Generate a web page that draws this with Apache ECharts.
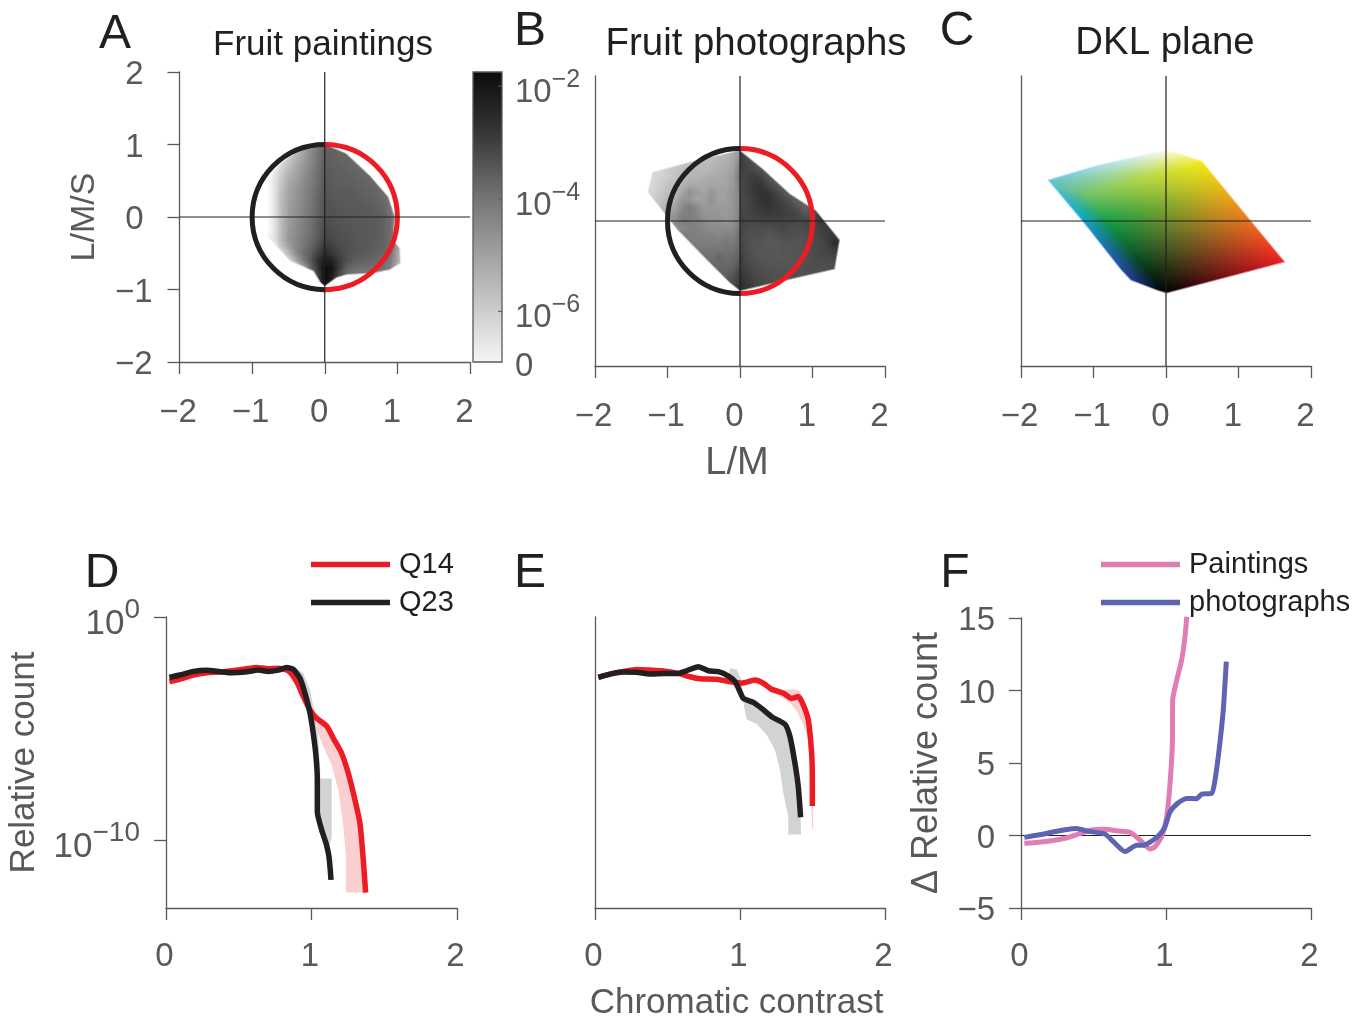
<!DOCTYPE html>
<html><head><meta charset="utf-8">
<style>html,body{margin:0;padding:0;background:#fff}#c{width:1364px;height:1017px}</style>
<script src="https://cdn.jsdelivr.net/npm/echarts@6/dist/echarts.min.js"></script>
</head><body><div id="c"></div>
<script>
const INK='#231F20', AX='#58595B', RED='#ED1C24', PINKB='#F9CFD0', GRAYB='#D1D3D4', PINK='#E07DB4', BLUE='#5E64B1';
const FONT='"Liberation Sans", Arial, sans-serif';

/* ---------- line data: [chromatic contrast, log10 relative count] ---------- */
const dQ14=[[.023,-2.90],[.096,-2.79],[.188,-2.60],[.28,-2.50],[.371,-2.47],[.451,-2.41],[.543,-2.33],[.623,-2.26],[.703,-2.32],[.772,-2.30],[.841,-2.41],[.898,-2.90],[.944,-3.57],[.990,-4.17],[1.035,-4.54],[1.104,-4.89],[1.150,-5.44],[1.207,-6.11],[1.253,-7.01],[1.299,-8.21],[1.333,-9.25],[1.356,-10.90],[1.372,-12.36]];
const dQ23=[[.023,-2.71],[.096,-2.60],[.188,-2.44],[.28,-2.39],[.371,-2.45],[.451,-2.50],[.543,-2.47],[.635,-2.38],[.703,-2.44],[.772,-2.38],[.829,-2.27],[.875,-2.35],[.921,-2.75],[.955,-3.42],[.990,-4.32],[1.012,-5.22],[1.031,-6.26],[1.040,-7.31],[1.040,-8.73],[1.070,-9.55],[1.100,-10.15],[1.120,-10.75],[1.134,-11.79]];
const dPinkBand=[[1.035,-4.40],[1.104,-4.70],[1.150,-5.44],[1.207,-6.11],[1.253,-7.01],[1.299,-8.21],[1.333,-9.25],[1.356,-10.90],[1.372,-12.36],[1.237,-12.36],[1.237,-10.75],[1.219,-9.40],[1.184,-7.76],[1.139,-6.64],[1.081,-5.81],[1.035,-5.07]];
const dGrayBand=[[.898,-2.30],[.944,-2.53],[.990,-3.27],[1.024,-4.39],[1.047,-5.52],[1.058,-6.64],[1.061,-7.24],[1.139,-7.24],[1.139,-9.85],[1.122,-10.30],[1.100,-10.15],[1.070,-9.55],[1.040,-8.73],[1.040,-7.31],[1.031,-6.26],[1.012,-5.22],[.990,-4.32],[.955,-3.42],[.921,-2.75],[.875,-2.35]];

const eQ14=[[.023,-2.71],[.103,-2.56],[.195,-2.44],[.287,-2.35],[.379,-2.38],[.460,-2.41],[.575,-2.53],[.655,-2.68],[.724,-2.77],[.839,-2.79],[.931,-2.90],[1.011,-2.97],[1.103,-2.83],[1.161,-2.97],[1.218,-3.24],[1.299,-3.42],[1.356,-3.65],[1.402,-3.57],[1.437,-3.95],[1.471,-4.62],[1.494,-6.11],[1.499,-7.31],[1.499,-8.48]];
const eQ23=[[.023,-2.71],[.103,-2.56],[.195,-2.47],[.287,-2.48],[.379,-2.56],[.471,-2.53],[.575,-2.53],[.632,-2.41],[.713,-2.23],[.782,-2.41],[.851,-2.45],[.920,-2.65],[.966,-2.90],[1.0,-3.35],[1.023,-3.65],[1.092,-3.83],[1.149,-4.10],[1.218,-4.47],[1.310,-4.81],[1.345,-5.37],[1.379,-6.56],[1.402,-7.61],[1.418,-8.98]];
const ePinkBand=[[1.103,-2.71],[1.161,-2.86],[1.218,-3.09],[1.299,-3.27],[1.368,-3.24],[1.409,-3.30],[1.448,-3.80],[1.483,-4.62],[1.501,-6.11],[1.506,-7.31],[1.504,-9.48],[1.497,-9.48],[1.487,-7.31],[1.471,-5.52],[1.437,-4.84],[1.395,-4.25],[1.345,-3.84],[1.276,-3.57],[1.207,-3.30],[1.138,-3.05],[1.069,-2.97]];
const eGrayBand=[[.931,-2.30],[.977,-2.35],[1.005,-2.75],[1.018,-3.42],[1.028,-4.02],[1.046,-4.59],[1.115,-4.80],[1.184,-5.29],[1.241,-5.96],[1.276,-6.86],[1.299,-7.91],[1.333,-8.95],[1.333,-9.75],[1.421,-9.75],[1.418,-8.98],[1.402,-7.61],[1.379,-6.56],[1.345,-5.37],[1.310,-4.81],[1.218,-4.47],[1.149,-4.10],[1.092,-3.83],[1.023,-3.65],[1.0,-3.35],[.966,-2.90],[.920,-2.65]];

const fPaintings=[[.023,-.54],[.119,-.47],[.212,-.36],[.303,-.19],[.395,.10],[.487,.38],[.579,.43],[.671,.31],[.752,.22],[.821,-.31],[.890,-.93],[.924,-.77],[.970,-.08],[1.005,1.30],[1.028,3.60],[1.044,6.36],[1.046,9.34],[1.074,10.72],[1.108,12.10],[1.131,13.71],[1.143,15.09]];
const fPhotographs=[[.023,-.13],[.119,.03],[.212,.22],[.303,.40],[.384,.49],[.453,.31],[.579,.10],[.637,-.43],[.717,-1.11],[.798,-.68],[.844,-.68],[.913,-.31],[.959,.10],[.993,.61],[1.028,1.64],[1.085,2.26],[1.143,2.56],[1.212,2.54],[1.246,2.86],[1.315,2.91],[1.338,3.83],[1.366,5.90],[1.395,8.66],[1.407,10.50],[1.416,11.99]];

/* ---------- density panels: grey level on a 0.1-unit lattice, outline in L/M, L/M/S ---------- */
const aOutline=[[0,1.01],[.30,.88],[.62,.58],[.88,.28],[.97,0],[.945,-.32],[1.04,-.43],[1.05,-.64],[.9,-.73],[.67,-.78],[.30,-.80],[.165,-.84],[0,-.96],[-.06,-.91],[-.16,-.75],[-.48,-.61],[-.80,-.27],[-.82,-.13],[-.82,.51],[-.62,.74],[-.34,.94],[-.11,1.01],[0,1.01]];
const aGrey=[ /* x -0.8..1.1, y 1.0..-1.0 */
[255,255,240,220,200,175,150,125,100,100,100,105,110,115,125,135,145,155,170,210],
[255,252,232,208,185,165,140,120,95,98,100,105,110,115,120,130,140,150,165,210],
[255,245,222,198,178,160,138,118,95,97,100,102,105,110,115,122,132,145,165,210],
[255,240,215,190,170,152,135,115,92,95,97,100,102,105,110,115,125,140,165,210],
[255,235,205,180,165,148,130,112,90,93,95,97,100,102,105,110,120,140,165,210],
[255,232,198,172,158,142,128,110,88,92,95,95,97,100,102,107,115,135,165,210],
[255,230,192,166,153,138,124,108,86,90,92,92,95,97,100,102,110,130,165,210],
[255,230,190,164,150,136,122,105,84,88,90,90,92,95,97,100,107,125,165,210],
[255,230,188,162,148,134,120,102,82,86,88,90,90,92,95,97,102,120,160,210],
[255,230,187,160,146,132,118,100,82,84,86,88,90,90,92,95,100,115,155,210],
[255,230,187,159,144,130,116,98,80,82,84,86,88,90,90,92,97,110,145,210],
[255,230,187,157,142,128,114,96,78,80,84,86,88,90,90,92,97,110,145,210],
[255,230,187,154,140,126,112,94,72,78,82,84,86,88,90,92,97,110,145,210],
[245,228,185,152,136,123,108,90,68,74,80,82,86,88,90,92,97,110,145,210],
[255,238,196,160,136,120,104,80,56,64,76,80,84,88,90,94,98,110,155,225],
[255,252,225,185,142,113,94,66,42,54,70,80,86,90,94,98,102,115,165,230],
[255,255,246,218,170,126,90,50,26,36,60,80,92,98,102,106,110,125,165,235],
[255,255,255,246,212,172,104,55,12,22,60,96,108,114,114,114,114,130,185,240],
[255,255,255,255,240,202,132,70,10,28,74,110,122,124,124,124,130,145,200,245],
[255,255,255,255,255,230,160,60,8,40,95,130,142,144,144,144,144,165,210,245],
[255,255,255,255,255,255,200,60,8,60,125,160,160,160,160,160,160,180,220,245]];
const bLeftOutline=[[0,.98],[-.69,.82],[-1.21,.68],[-1.28,.40],[-.87,-.12],[-.46,-.54],[-.14,-.86],[0,-.97]];
const bLeftGrey=[ /* x -1.3..0, y 1.0..-1.0 */
[220,220,220,220,215,210,205,200,195,190,185,180,170,150],
[220,220,220,220,215,210,205,200,195,190,185,180,170,150],
[220,220,220,215,205,200,195,190,185,185,180,175,165,130],
[220,218,215,205,200,190,185,185,185,180,175,170,160,120],
[220,215,210,205,195,185,180,180,175,170,170,165,155,120],
[220,215,205,195,190,180,170,170,170,165,165,165,155,125],
[220,210,200,190,185,165,145,155,165,150,160,160,150,130],
[210,205,195,185,175,150,150,165,160,145,160,160,150,130],
[205,200,190,175,165,140,125,140,155,150,155,155,150,130],
[200,195,180,165,150,130,125,135,150,150,150,155,150,130],
[195,190,170,155,140,125,125,130,140,145,145,150,145,125],
[190,180,160,150,140,135,130,130,135,140,140,140,140,115],
[180,170,150,140,130,125,125,128,130,130,135,130,130,110],
[170,160,140,130,125,125,125,125,125,125,125,118,125,105],
[160,150,130,125,120,120,120,120,118,118,118,115,115,100],
[150,140,125,120,115,115,115,110,110,115,100,110,105,95],
[140,130,120,115,110,110,110,110,108,105,105,105,100,85],
[130,120,115,110,105,105,105,105,100,100,100,100,90,70],
[120,115,110,105,100,100,100,100,95,95,95,90,80,60],
[110,110,105,100,100,100,95,95,90,90,85,80,70,50],
[100,100,100,100,95,95,90,90,85,85,80,70,60,40]];
const bRightOutline=[[0,.98],[.32,.72],[.69,.38],[1.05,.15],[1.38,-.26],[1.31,-.67],[.87,-.77],[0,-.97]];
const bRightGrey=[ /* x 0..1.4, y 1.0..-1.0 */
[60,75,95,110,120,125,125,125,125,125,125,125,125,125,125],
[60,75,95,110,120,125,125,125,125,125,125,125,125,125,125],
[60,72,85,100,110,120,125,125,125,125,125,125,125,125,125],
[65,68,72,82,95,110,120,125,125,125,125,125,125,125,125],
[70,65,60,65,85,100,115,120,125,125,125,125,125,125,125],
[75,65,55,55,70,85,100,110,120,125,125,125,125,125,125],
[75,65,55,50,55,70,85,100,115,120,110,100,90,90,90],
[75,68,58,50,50,60,72,85,100,110,100,85,70,70,70],
[72,70,60,55,52,58,65,72,85,100,85,65,55,55,55],
[70,70,65,60,58,60,62,65,72,85,85,58,50,50,50],
[68,72,72,70,68,68,68,70,72,72,70,60,52,50,50],
[70,75,78,78,78,75,72,75,78,75,72,65,58,55,55],
[70,78,80,82,85,82,78,80,82,80,75,70,60,55,58],
[68,80,85,85,88,88,85,85,85,82,78,72,65,45,58],
[65,78,85,85,88,88,85,85,85,82,78,72,68,60,60],
[62,75,82,85,85,88,88,85,85,82,78,75,72,70,70],
[60,72,78,80,85,85,85,85,82,80,78,78,78,78,78],
[55,65,75,78,80,82,82,82,80,80,80,80,80,80,80],
[50,60,70,75,78,80,80,80,80,80,80,80,80,80,80],
[45,55,65,70,75,78,80,80,80,80,80,80,80,80,80],
[45,55,65,70,75,78,80,80,80,80,80,80,80,80,80]];
const cOutline=[[-1.64,.57],[-.97,.77],[-.05,.98],[.08,.97],[.5,.83],[.59,.72],[1.18,0],[1.65,-.57],[.01,-1.0],[-.1,-.97],[-.49,-.82],[-.63,-.67],[-1.16,0],[-1.64,.57]];
/* RGB-cube corners projected on the plane, and their printed colours */
const cubeBlack=[0,-1], cubeR=[1.65,.43], cubeG=[-1.1,1.37], cubeB=[-.55,.2];
const greenRamp=[[0,[0,0,0]],[.73,[20,160,70]],[1,[120,195,110]]];
const cyanRamp=[[0,[45,65,175]],[.66,[20,175,235]],[1,[100,195,215]]];
const redYellowRamp=[[0,[237,28,36]],[1,[242,235,20]]];
const magentaWhiteRamp=[[0,[236,0,140]],[1,[255,255,255]]];

const colourbarExp=[-2,-4,-6];
const colourbarStops=[[0,'#0c0c0c'],[.2,'#333'],[.43,'#737373'],[.8,'#c8c8c8'],[1,'#f6f6f6']];

/* ---------- helpers ---------- */
function greyCanvas(rows){
  const h=rows.length,w=rows[0].length,cv=document.createElement('canvas');cv.width=w;cv.height=h;
  const ctx=cv.getContext('2d'),im=ctx.createImageData(w,h);
  rows.forEach((r,j)=>r.forEach((v,i)=>{const k=4*(j*w+i);im.data[k]=im.data[k+1]=im.data[k+2]=v;im.data[k+3]=255;}));
  ctx.putImageData(im,0,0);return cv;
}
function solve2(u,v,p){const d=u[0]*v[1]-v[0]*u[1];return [(p[0]*v[1]-v[0]*p[1])/d,(u[0]*p[1]-p[0]*u[1])/d];}
function ramp(r,t){
  for(let i=1;i<r.length;i++) if(t<=r[i][0]){
    const f=(t-r[i-1][0])/(r[i][0]-r[i-1][0]);
    return r[i][1].map((v,k)=>r[i-1][1][k]+(v-r[i-1][1][k])*f);
  }
  return r[r.length-1][1];
}
function dklColour(x,y){
  const p=[x-cubeBlack[0],y-cubeBlack[1]];
  const s1=solve2(cubeR,cubeG,p), s2=solve2(cubeG,cubeB,p), s3=solve2(cubeR,cubeB,[p[0]-cubeG[0],p[1]-cubeG[1]]);
  const cands=[[s1[0],s1[1],0],[0,s2[0],s2[1]],[s3[0],1,s3[1]]];
  let best=null,bv=1e9;
  cands.forEach(c=>{const v=c.reduce((t,q)=>t+Math.max(0,-q)+Math.max(0,q-1),0);if(v<bv){bv=v;best=c;}});
  const [a,b,c]=best.map(q=>Math.min(1,Math.max(0,q)));
  const g=ramp(greenRamp,b),ry=ramp(redYellowRamp,b),cy=ramp(cyanRamp,b),mw=ramp(magentaWhiteRamp,b);
  return [0,1,2].map(i=>(1-c)*((1-a)*g[i]+a*ry[i])+c*((1-a)*cy[i]+a*mw[i]));
}
function dklCanvas(){
  const w=360,h=210,cv=document.createElement('canvas');cv.width=w;cv.height=h;
  const ctx=cv.getContext('2d'),im=ctx.createImageData(w,h);
  for(let j=0;j<h;j++)for(let i=0;i<w;i++){
    const col=dklColour(-1.8+(i+.5)*.01,1.05-(j+.5)*.01),k=4*(j*w+i);
    im.data[k]=col[0];im.data[k+1]=col[1];im.data[k+2]=col[2];im.data[k+3]=255;
  }
  ctx.putImageData(im,0,0);return cv;
}
function imageSeries(g,cv,xMin,xMax,yMin,yMax,outline){
  return {type:'custom',xAxisIndex:g,yAxisIndex:g,silent:true,animation:false,data:[[0,0]],
    renderItem:(p,api)=>{
      const a=api.coord([xMin,yMax]),b=api.coord([xMax,yMin]),pts=outline.map(q=>api.coord(q));
      return {type:'group',children:[
        {type:'image',style:{image:cv,x:a[0],y:a[1],width:b[0]-a[0],height:b[1]-a[1]},clipPath:{type:'polygon',shape:{points:pts}}},
        {type:'polyline',shape:{points:pts},style:{fill:null,stroke:'rgba(255,255,255,.5)',lineWidth:2}}
      ]};
    }};
}
function polySeries(g,pts,color){
  return {type:'custom',xAxisIndex:g,yAxisIndex:g,silent:true,animation:false,data:[[0,0]],
    renderItem:(p,api)=>({type:'polygon',shape:{points:pts.map(q=>api.coord(q))},style:{fill:color}})};
}
function halfCircle(g,color,start,end){
  return {type:'custom',xAxisIndex:g,yAxisIndex:g,silent:true,animation:false,data:[[0,0]],
    renderItem:(p,api)=>{
      const c=api.coord([0,0]),r=api.size([1,0])[0];
      return {type:'arc',shape:{cx:c[0],cy:c[1],r:r,startAngle:start,endAngle:end,clockwise:true},style:{fill:null,stroke:color,lineWidth:5}};
    }};
}
function lineSeries(g,name,data,color,w){
  return {type:'line',name,xAxisIndex:g,yAxisIndex:g,data,showSymbol:false,symbol:'none',smooth:.2,animation:false,silent:true,
    clip:true,lineStyle:{color,width:w||5.5,cap:'butt',join:'round'},itemStyle:{color}};
}
function crossSeries(g){
  return [[[-2,0],[2,0]],[[0,-2],[0,2]]].map(d=>({type:'line',xAxisIndex:g,yAxisIndex:g,data:d,showSymbol:false,symbol:'none',animation:false,silent:true,lineStyle:{color:INK,width:1.2}}));
}

/* axis text */
const tk={fontSize:33,fontFamily:FONT,color:AX};
const tickRich={p:{...tk,padding:[0,11,0,0]},n:{...tk,padding:[0,3,0,0]},d:{...tk,padding:[0,3,0,0]},
  yp:{...tk,padding:[6,9,0,0]},yn:{...tk,padding:[6,0,0,0]},fy:{...tk,padding:[6,0,0,0]},zero:{...tk,padding:[10,0,0,0]},
  b:{...tk,verticalAlign:'bottom',padding:[14,0,0,0]},e:{...tk,fontSize:25,verticalAlign:'top',padding:[5,0,0,0]},
  b2:{...tk,fontSize:35,verticalAlign:'bottom',padding:[14,0,0,0]},e2:{...tk,fontSize:28,verticalAlign:'top',padding:[4,0,0,0]}};
const minus=v=>String(v).replace('-','\u2212');
const lineAx={show:true,lineStyle:{color:AX,width:1.3}};
const tickAx={show:true,length:12,lineStyle:{color:AX,width:1.3}};
const noSplit={show:false};
function xAx(g,style,name,gap,size,pad){
  return {type:'value',gridIndex:g,min:style==='unit'?0:-2,max:2,interval:1,axisLine:{...lineAx,onZero:false},axisTick:tickAx,splitLine:noSplit,
    axisLabel:{margin:style==='unit'?32:34,fontFamily:FONT,rich:tickRich,formatter:v=>style==='unit'?`{d|${v}}`:(v<0?`{n|${minus(v)}}`:`{p|${v}}`)},
    name:name||'',nameLocation:'middle',nameGap:gap||0,nameMoveOverlap:false,nameTextStyle:{fontFamily:FONT,fontSize:size||35,color:AX,padding:[0,pad||0,0,0]}};
}
function hiddenLabelY(g){
  return {type:'value',gridIndex:g,min:-2,max:2,interval:1,axisLine:{...lineAx,onZero:false},axisTick:{show:false},axisLabel:{show:false},splitLine:noSplit};
}
const gridBox=(left,top,width,height)=>({left,top,width,height,outerBoundsMode:'none'});

const option={animation:false,backgroundColor:'#fff',
  title:[
    ['A',115,35,48],['B',530,32,48],['C',957,32,48],['D',102,574,48],['E',530,574,48],['F',955,574,48],
    ['Fruit paintings',323,45,35],['Fruit photographs',756,44,38.4],['DKL plane',1165,43,38.4]
  ].map(t=>({text:t[0],left:t[1],top:t[2],padding:0,textAlign:'center',textVerticalAlign:'middle',textStyle:{fontFamily:FONT,fontWeight:'normal',fontSize:t[3],color:INK}})),
  legend:[
    {data:['Q14','Q23'],left:311,top:550,orient:'vertical',icon:'rect',itemWidth:79,itemHeight:5.5,itemGap:9,padding:0,selectedMode:false,textStyle:{fontFamily:FONT,fontSize:29,color:INK,padding:[4,0,0,4]}},
    {data:['Paintings','photographs'],left:1101,top:550,orient:'vertical',icon:'rect',itemWidth:79,itemHeight:5.5,itemGap:9,padding:0,selectedMode:false,textStyle:{fontFamily:FONT,fontSize:29,color:INK,padding:[4,0,0,4]}}
  ],
  grid:[
    gridBox(179.5,72,290.5,290),
    gridBox(473,72,29,290),
    gridBox(595,76,290,290),
    gridBox(1021,76,290,290),
    gridBox(166,617,291,291),
    gridBox(595,617,290,291),
    gridBox(1021,618,290,290)
  ],
  xAxis:[
    xAx(0,'sym'),
    {type:'value',gridIndex:1,min:0,max:1,show:false},
    xAx(2,'sym','L/M',79,38,6),
    xAx(3,'sym'),
    xAx(4,'unit'),
    xAx(5,'unit','Chromatic contrast',78,35,7),
    xAx(6,'unit')
  ],
  yAxis:[
    {type:'value',gridIndex:0,min:-2,max:2,interval:1,axisLine:{...lineAx,onZero:false},axisTick:tickAx,splitLine:noSplit,
      axisLabel:{margin:27,rich:tickRich,formatter:v=>v<0?`{yn|${minus(v)}}`:`{yp|${v}}`},
      name:'L/M/S',nameLocation:'middle',nameGap:78,nameMoveOverlap:false,nameTextStyle:{fontFamily:FONT,fontSize:34,color:AX}},
    {type:'value',gridIndex:1,position:'right',min:-6.9,max:-1.75,axisLine:{show:false},
      axisTick:{show:false},splitLine:noSplit,
      axisLabel:{margin:13,align:'left',rich:tickRich,customValues:[...colourbarExp,-6.9],formatter:v=>v<-6.5?'{zero|0}':`{b|10}{e|${minus(v)}}`}},
    hiddenLabelY(2),hiddenLabelY(3),
    {type:'value',gridIndex:4,min:-13.05,max:0,axisLine:{...lineAx,onZero:false},
      axisTick:{...tickAx,customValues:[0,-10]},splitLine:noSplit,
      axisLabel:{margin:26,align:'right',rich:tickRich,customValues:[0,-10],formatter:v=>`{b2|10}{e2|${minus(v)}}`},
      name:'Relative count',nameLocation:'middle',nameGap:124,nameMoveOverlap:false,nameTextStyle:{fontFamily:FONT,fontSize:35,color:AX}},
    {type:'value',gridIndex:5,min:-13.05,max:0,axisLine:{...lineAx,onZero:false},axisTick:{show:false},axisLabel:{show:false},splitLine:noSplit},
    {type:'value',gridIndex:6,min:-5,max:15,interval:5,axisLine:{...lineAx,onZero:false},axisTick:tickAx,splitLine:noSplit,
      axisLabel:{margin:26,rich:tickRich,formatter:v=>`{fy|${minus(v)}}`},
      name:'\u0394 Relative count',nameLocation:'middle',nameGap:76,nameMoveOverlap:false,nameTextStyle:{fontFamily:FONT,fontSize:36,color:AX}}
  ],
  series:[
    imageSeries(0,greyCanvas(aGrey),-.85,1.15,-1.05,1.05,aOutline),
    ...crossSeries(0),
    halfCircle(0,INK,Math.PI/2,Math.PI*1.5),
    halfCircle(0,RED,-Math.PI/2,Math.PI/2),
    {type:'custom',xAxisIndex:1,yAxisIndex:1,silent:true,animation:false,data:[[0,0]],
      renderItem:(p,api)=>{
        const a=api.coord([0,-1.75]),b=api.coord([1,-6.9]);
        return {type:'group',children:[
          {type:'rect',shape:{x:a[0],y:a[1],width:b[0]-a[0],height:b[1]-a[1]},
            style:{stroke:AX,lineWidth:1.3,fill:new echarts.graphic.LinearGradient(0,0,0,1,colourbarStops.map(s=>({offset:s[0],color:s[1]})))}},
          ...colourbarExp.map(v=>{const q=api.coord([1,v]);return {type:'line',shape:{x1:q[0]-4,y1:q[1],x2:q[0],y2:q[1]},style:{stroke:AX,lineWidth:1}};})
        ]};
      }},
    imageSeries(2,greyCanvas(bLeftGrey),-1.35,.05,-1.05,1.05,bLeftOutline),
    imageSeries(2,greyCanvas(bRightGrey),-.05,1.45,-1.05,1.05,bRightOutline),
    ...crossSeries(2),
    halfCircle(2,INK,Math.PI/2,Math.PI*1.5),
    halfCircle(2,RED,-Math.PI/2,Math.PI/2),
    imageSeries(3,dklCanvas(),-1.8,1.8,-1.05,1.05,cOutline),
    ...crossSeries(3),
    polySeries(4,dPinkBand,PINKB),polySeries(4,dGrayBand,GRAYB),
    lineSeries(4,'Q14',dQ14,RED),lineSeries(4,'Q23',dQ23,INK),
    polySeries(5,ePinkBand,PINKB),polySeries(5,eGrayBand,GRAYB),
    lineSeries(5,'Q14',eQ14,RED),lineSeries(5,'Q23',eQ23,INK),
    {type:'line',xAxisIndex:6,yAxisIndex:6,data:[[0,0],[2,0]],showSymbol:false,symbol:'none',animation:false,silent:true,lineStyle:{color:INK,width:1.1}},
    lineSeries(6,'Paintings',fPaintings,PINK,5),lineSeries(6,'photographs',fPhotographs,BLUE,5)
  ]
};
echarts.init(document.getElementById('c'),null,{renderer:'canvas'}).setOption(option);
</script></body></html>
